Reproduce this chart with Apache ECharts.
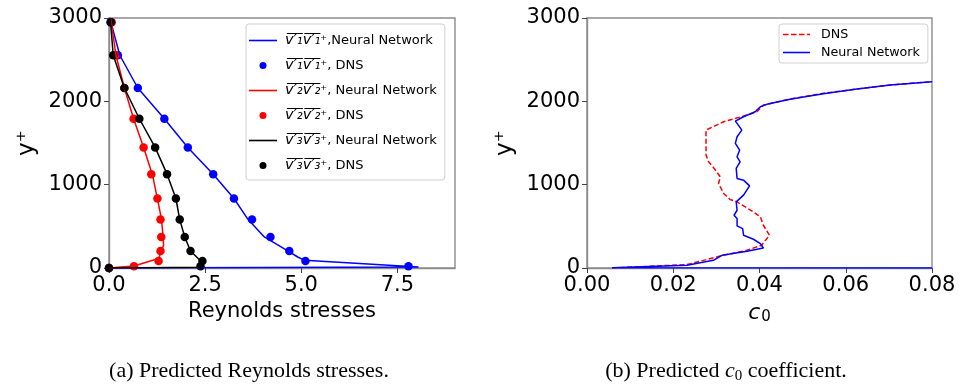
<!DOCTYPE html>
<html>
<head>
<meta charset="utf-8">
<script src="https://cdn.jsdelivr.net/npm/echarts@6/dist/echarts.min.js"></script>
<style>
  html, body { margin:0; padding:0; background:#fff; }
  #chart { width:960px; height:388px; }
</style>
</head>
<body>
<div id="chart"></div>
<script>
(function(){
  // DNS sample heights (y+) shared by the three stress components
  const dnsY   = [0, 20, 84, 204, 373, 581, 834, 1126, 1447, 1791, 2160, 2553, 2950];
  const dnsUU  = [0, 7.79, 5.11, 4.69, 4.20, 3.72, 3.25, 2.71, 2.05, 1.44, 0.75, 0.23, 0.04];
  const dnsVV  = [0, 0.65, 1.29, 1.34, 1.36, 1.34, 1.26, 1.10, 0.90, 0.64, 0.40, 0.18, 0.07];
  const dnsWW  = [0, 2.38, 2.43, 2.12, 1.97, 1.84, 1.74, 1.51, 1.20, 0.79, 0.40, 0.11, 0.05];

  // neural network profiles [stress, y+]
  const nnUU = [[0,0],[8.05,12],[5.09,92],[4.91,132],[4.65,205],[4.04,373],[3.62,581],[3.25,834],[2.71,1126],
                [2.05,1447],[1.44,1791],[0.75,2160],[0.28,2553],[0.05,2950],[0.03,3000]];
  const nnVV = [[0,0],[0.65,24],[1.29,113],[1.42,272],[1.40,420],[1.36,600],[1.25,850],[1.13,1120],
                [0.90,1447],[0.64,1791],[0.40,2160],[0.18,2553],[0.06,2950],[0.03,3000]];
  const nnWW = [[0,0],[2.42,10],[2.42,70],[2.12,204],[1.97,373],[1.84,581],[1.74,834],[1.51,1126],
                [1.20,1447],[0.79,1791],[0.40,2160],[0.11,2553],[0.04,2950],[0.02,3000]];

  // c0 profiles [c0, y+]
  const c0Dns = [[0.0058,0],[0.0232,41],[0.0309,144],[0.0371,213],[0.0405,273],[0.0423,393],[0.0409,513],
                 [0.0402,613],[0.0386,673],[0.0367,733],[0.0348,793],[0.0332,822],[0.0317,894],[0.0305,1014],
                 [0.0309,1094],[0.0295,1195],[0.0282,1274],[0.0276,1355],[0.0276,1514],[0.0276,1655],
                 [0.0317,1755],[0.0371,1835],[0.0394,1875],[0.0409,1955],[0.0471,2028],[0.0548,2096],
                 [0.0626,2148],[0.0703,2196],[0.0800,2236]];
  const c0Nn  = [[0.0800,0],[0.0058,4],[0.0232,32],[0.0293,92],[0.0313,152],[0.0371,200],[0.0409,240],
                 [0.0402,293],[0.0386,345],[0.0363,393],[0.0361,473],[0.0348,505],[0.0348,594],[0.0341,633],
                 [0.0348,693],[0.0346,793],[0.0363,874],[0.0377,986],[0.0363,1054],[0.0348,1074],
                 [0.0346,1195],[0.0355,1274],[0.0348,1334],[0.0354,1415],[0.0344,1495],[0.0348,1575],
                 [0.0359,1655],[0.0351,1715],[0.0344,1763],[0.0363,1815],[0.0390,1875],[0.0402,1935],
                 [0.0417,1964],[0.0471,2024],[0.0548,2090],[0.0626,2148],[0.0703,2196],[0.0800,2236]];

  const yTicks = [0, 1000, 2000, 3000];
  const xTicksA = [0, 2.5, 5, 7.5];
  const xTicksB = [0, 0.02, 0.04, 0.06, 0.08];

  const FONT = 'DejaVu Sans';
  const SPINE = '#8c8c8c';
  const LINE_ICON = 'path://M0,0h28v1.6h-28z';
  const DASH_ICON = 'path://M0,0h5.5v1.6h-5.5zM8,0h5.5v1.6h-5.5zM16,0h5.5v1.6h-5.5zM24,0h3v1.6h-3z';

  const bar = (d) => `{o|v\u0305\u2032\u0305${d}\u0305v\u0305\u2032\u0305${d}\u0305}\u207a`;
  const names = ['uuNN','uuDNS','vvNN','vvDNS','wwNN','wwDNS'];
  const legendNames = [
    bar('\u2081') + ',Neural Network',
    bar('\u2081') + ', DNS',
    bar('\u2082') + ', Neural Network',
    bar('\u2082') + ', DNS',
    bar('\u2083') + ', Neural Network',
    bar('\u2083') + ', DNS'
  ];

  const zip = (xs, ys) => xs.map((x, i) => [x, ys[i]]);

  function yAxisFor(gi) {
    return {
      gridIndex: gi, type:'value', min:0, max:3000, interval:1000,
      name:'y\u207a', nameLocation:'middle', nameGap:70,
      nameTextStyle:{fontFamily:FONT, fontSize:23, color:'#000'},
      axisLine:{show:true, lineStyle:{color:SPINE, width:1.4}},
      axisTick:{show:true, length:5, lineStyle:{color:'#444'}, customValues: yTicks},
      axisLabel:{fontFamily:FONT, fontSize:21, color:'#000', margin:7, customValues: yTicks,
                 formatter: v => String(v)},
      splitLine:{show:false}
    };
  }

  const chart = echarts.init(document.getElementById('chart'), null, {renderer:'canvas'});

  const option = {
    backgroundColor:'#fff',
    animation:false,
    grid: [
      {left:109, top:18, right:505, bottom:120, show:true, borderColor:SPINE, borderWidth:1.4},
      {left:587, top:18, right:28, bottom:120, show:true, borderColor:SPINE, borderWidth:1.4}
    ],
    xAxis: [
      {
        gridIndex:0, type:'value', min:0, max:9,
        name:'Reynolds stresses', nameLocation:'middle', nameGap:31,
        nameTextStyle:{fontFamily:FONT, fontSize:21, color:'#000'},
        axisLine:{show:true, onZero:false, lineStyle:{color:SPINE, width:1.4}},
        axisTick:{show:true, length:5, lineStyle:{color:'#444'}, customValues: xTicksA},
        axisLabel:{fontFamily:FONT, fontSize:21, color:'#000', margin:7, customValues: xTicksA,
                   formatter: v => v.toFixed(1)},
        splitLine:{show:false}
      },
      {
        gridIndex:1, type:'value', min:0, max:0.08,
        name:'{i|c}{s|0}', nameLocation:'middle', nameGap:33,
        nameTextStyle:{fontFamily:FONT, fontSize:21, color:'#000',
          rich:{ i:{fontFamily:FONT, fontSize:22, fontStyle:'italic', color:'#000'},
                 s:{fontFamily:FONT, fontSize:15, color:'#000', padding:[9,0,0,1]} }},
        axisLine:{show:true, onZero:false, lineStyle:{color:SPINE, width:1.4}},
        axisTick:{show:true, length:5, lineStyle:{color:'#444'}, customValues: xTicksB},
        axisLabel:{fontFamily:FONT, fontSize:21, color:'#000', margin:7, customValues: xTicksB,
                   formatter: v => v.toFixed(2)},
        splitLine:{show:false}
      }
    ],
    yAxis: [yAxisFor(0), yAxisFor(1)],
    legend: [
      {
        orient:'vertical', left:246, top:24,
        padding:[9,8,7,3], itemGap:10, itemWidth:28, itemHeight:7,
        backgroundColor:'rgba(255,255,255,0.85)', borderColor:'#d0d0d0', borderWidth:1, borderRadius:3,
        data: names.map((n, i) => ({name:n, icon: i % 2 === 0 ? LINE_ICON : 'circle'})),
        formatter: n => legendNames[names.indexOf(n)],
        textStyle:{fontFamily:FONT, fontSize:13, color:'#000', padding:[0,0,0,3],
          rich:{ o:{fontFamily:FONT, fontSize:14.5, fontStyle:'italic', color:'#000'} }},
        selectedMode:false
      },
      {
        orient:'vertical', left:779, top:24,
        padding:[4,8,4,4], itemGap:5, itemWidth:27, itemHeight:7,
        backgroundColor:'rgba(255,255,255,0.85)', borderColor:'#d0d0d0', borderWidth:1, borderRadius:3,
        data:[{name:'DNS', icon:DASH_ICON}, {name:'Neural Network', icon:LINE_ICON}],
        textStyle:{fontFamily:FONT, fontSize:12.7, color:'#000', padding:[0,0,0,6]},
        selectedMode:false
      }
    ],
    series: [
      {name:'uuNN', type:'line', xAxisIndex:0, yAxisIndex:0, data:nnUU, symbol:'none',
       lineStyle:{color:'#0000ff', width:1.5}, itemStyle:{color:'#0000ff'}},
      {name:'uuDNS', type:'scatter', xAxisIndex:0, yAxisIndex:0, data:zip(dnsUU, dnsY), symbolSize:8.5,
       itemStyle:{color:'#0000ff', opacity:1}},
      {name:'vvNN', type:'line', xAxisIndex:0, yAxisIndex:0, data:nnVV, symbol:'none',
       lineStyle:{color:'#ff0000', width:1.5}, itemStyle:{color:'#ff0000'}},
      {name:'vvDNS', type:'scatter', xAxisIndex:0, yAxisIndex:0, data:zip(dnsVV, dnsY), symbolSize:8.5,
       itemStyle:{color:'#ff0000', opacity:1}},
      {name:'wwNN', type:'line', xAxisIndex:0, yAxisIndex:0, data:nnWW, symbol:'none',
       lineStyle:{color:'#000000', width:1.5}, itemStyle:{color:'#000000'}},
      {name:'wwDNS', type:'scatter', xAxisIndex:0, yAxisIndex:0, data:zip(dnsWW, dnsY), symbolSize:8.5,
       itemStyle:{color:'#000000', opacity:1}},
      {name:'DNS', type:'line', xAxisIndex:1, yAxisIndex:1, data:c0Dns, symbol:'none',
       lineStyle:{color:'#ff0000', width:1.5, type:[5,2.5]}, itemStyle:{color:'#ff0000'}},
      {name:'Neural Network', type:'line', xAxisIndex:1, yAxisIndex:1, data:c0Nn, symbol:'none',
       lineStyle:{color:'#0000ff', width:1.5}, itemStyle:{color:'#0000ff'}}
    ],
    graphic: [
      {type:'text', x:249, y:371, style:{text:'(a) Predicted Reynolds stresses.', fill:'#000',
        font:'22px "Liberation Serif"', align:'center', verticalAlign:'middle'}},
      {type:'text', x:726, y:371, style:{text:'{t|(b) Predicted }{i|c}{s|0}{t| coefficient.}',
        align:'center', verticalAlign:'middle',
        rich:{
          t:{fontFamily:'Liberation Serif', fontSize:22, color:'#000'},
          i:{fontFamily:'Liberation Serif', fontSize:22, fontStyle:'italic', color:'#000'},
          s:{fontFamily:'Liberation Serif', fontSize:15, color:'#000', padding:[10,0,0,0]}
        }}}
    ]
  };

  chart.setOption(option);
  window.addEventListener('resize', () => chart.resize());
})();
</script>
</body>
</html>
